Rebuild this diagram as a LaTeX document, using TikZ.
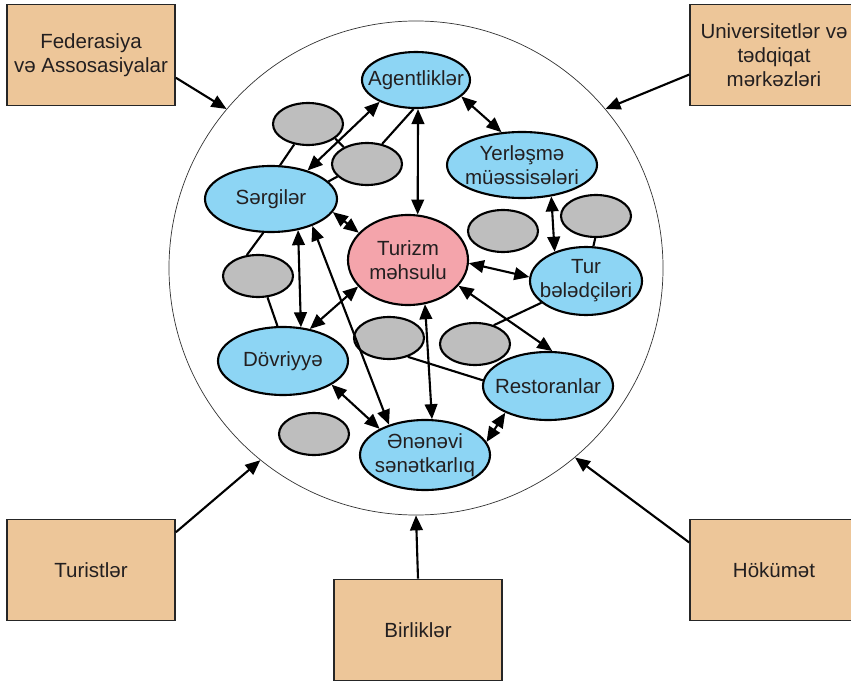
\documentclass[tikz,border=0pt]{standalone}
\usepackage{fontspec}
\setmainfont{Liberation Sans}
\usetikzlibrary{arrows.meta,shapes.geometric}

\definecolor{boxtan}{HTML}{EDC699}
\definecolor{skyfill}{HTML}{8DD5F4}
\definecolor{pinkfill}{HTML}{F4A4AB}
\definecolor{blobgray}{HTML}{BEBEBE}
\definecolor{inktext}{HTML}{231F20}

\begin{document}
\begin{tikzpicture}[x=0.03cm, y=-0.03cm,
    font=\fontsize{17.5}{20.5}\selectfont,
    actor/.style={ellipse,draw=black,line width=1.8pt,fill=skyfill,inner sep=0pt},
    core/.style={ellipse,draw=black,line width=1.8pt,fill=pinkfill,inner sep=0pt},
    blob/.style={ellipse,draw=black,line width=1.8pt,fill=blobgray,inner sep=0pt,
        minimum width=2.1cm,minimum height=1.26cm},
    party/.style={rectangle,draw=black!85,line width=1.5pt,fill=boxtan,align=center,
        text=inktext,minimum width=5.04cm,minimum height=3.03cm},
    words/.style={text=inktext,align=center,inner sep=0pt},
    twoway/.style={{Triangle[length=4.5mm,width=3.8mm]}-{Triangle[length=4.5mm,width=3.8mm]},line width=1.8pt},
    oneway/.style={-{Triangle[length=4.5mm,width=3.8mm]},line width=1.8pt},
    tie/.style={line width=1.8pt}]

    \clip (0,0) rectangle (851,683);

    \node[circle,draw=black!80,line width=0.6pt,minimum size=14.82cm,inner sep=0pt] (ring) at (416,268) {};

    \node[party] (fed) at (91,55) {Federasiya\\və Assosasiyalar};
    \node[party] (univ) at (774,55) {Universitetlər və\\tədqiqat\\mərkəzləri};
    \node[party] (turist) at (91,570) {Turistlər};
    \node[party] (birl) at (418,630) {Birliklər};
    \node[party] (hok) at (774,570) {Hökümət};

    \draw[oneway] (fed.345) -- (ring.140);
    \draw[oneway] (univ.193) -- (ring.40);
    \draw[oneway] (turist.24) -- (ring.231);
    \draw[oneway] (birl.north) -- (ring.south);
    \draw[oneway] (hok.162) -- (ring.310);

    \node[blob] (g1) at (308,124) {};
    \node[blob] (g2) at (367,164) {};
    \node[blob] (g3) at (258,276) {};
    \node[blob] (g4) at (503,231) {};
    \node[blob] (g5) at (596,216) {};
    \node[blob] (g6) at (389,338) {};
    \node[blob] (g7) at (475,344) {};
    \node[blob] (g8) at (314,434) {};

    \node[actor,minimum width=3.24cm,minimum height=1.68cm] (agent) at (416,80) {};
    \node[actor,minimum width=4.5cm,minimum height=1.98cm] (yerl) at (522,165) {};
    \node[actor,minimum width=3.96cm,minimum height=1.98cm] (serg) at (271,199) {};
    \node[core,minimum width=3.6cm,minimum height=2.7cm] (turizm) at (408,260) {};
    \node[actor,minimum width=3.36cm,minimum height=2.04cm] (tur) at (586,281) {};
    \node[actor,minimum width=3.9cm,minimum height=2.04cm] (dovr) at (283,361) {};
    \node[actor,minimum width=3.9cm,minimum height=2.04cm] (rest) at (548,386) {};
    \node[actor,minimum width=3.9cm,minimum height=2.1cm] (enen) at (425,455) {};

    \node[words] (agent-t) at (agent) {Agentliklər};
    \node[words] (yerl-t) at (yerl) {Yerləşmə\\müəssisələri};
    \node[words] (serg-t) at (serg) {Sərgilər};
    \node[words] (turizm-t) at (turizm) {Turizm\\məhsulu};
    \node[words] (tur-t) at (tur) {Tur\\bələdçiləri};
    \node[words] (dovr-t) at (dovr) {Dövriyyə};
    \node[words] (rest-t) at (rest) {Restoranlar};
    \node[words] (enen-t) at (enen) {Ənənəvi\\sənətkarlıq};

    \draw[tie] (g1.236) -- (serg.75);
    \draw[tie] (g1.332) -- (g2.144);
    \draw[tie] (g2.53) -- (agent.265);
    \draw[tie] (g2.203) -- (serg.17);
    \draw[tie] (g3.118) -- (serg.257);
    \draw[tie] (g3.294) -- (dovr.99);
    \draw[tie] (g5.268) -- (tur.78);
    \draw[tie] (g6.315) -- (rest.175);
    \draw[tie] (g7.45) -- (tur.206);

    \draw[twoway] (agent.211) -- (serg.38);
    \draw[twoway] (agent.274) -- (turizm.78);
    \draw[twoway] (agent.340) -- (yerl.122);
    \draw[twoway] (yerl.313) -- (tur.137);
    \draw[twoway] (turizm.357) -- (tur.176);
    \draw[twoway] (turizm.333) -- (rest.83);
    \draw[twoway] (turizm.151) -- (serg.348);
    \draw[twoway] (turizm.291) -- (enen.79);
    \draw[twoway] (turizm.208) -- (dovr.50);
    \draw[twoway] (serg.311) -- (dovr.62);
    \draw[twoway] (serg.327) -- (enen.140);
    \draw[twoway] (dovr.334) -- (enen.150);
    \draw[twoway] (rest.212) -- (enen.12);

\end{tikzpicture}
\end{document}
